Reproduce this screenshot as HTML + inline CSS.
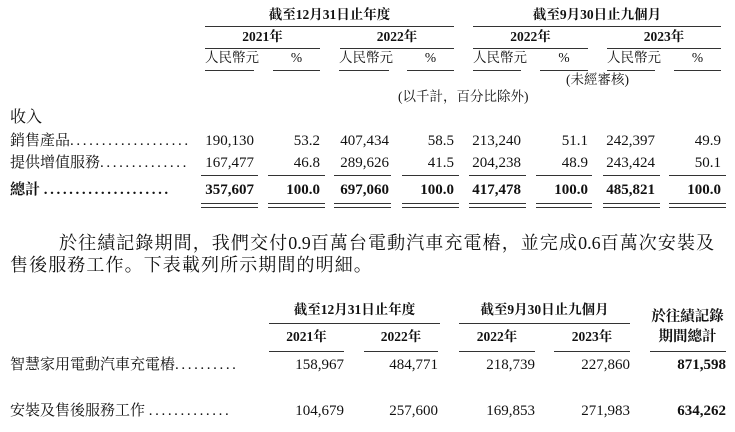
<!DOCTYPE html>
<html><head><meta charset="utf-8">
<style>
body{margin:0;width:735px;height:432px;background:#fff;position:relative;overflow:hidden;font-family:"Liberation Serif","Noto Serif CJK SC",serif;color:#111;}
.t{position:absolute;white-space:nowrap;line-height:18px;font-size:15px;}
.c{text-align:center;}
.b{font-weight:bold;}
.h{font-size:13.5px;}
.d{letter-spacing:2.6px;}
.l{position:absolute;height:1px;background:#333;}
.p{position:absolute;white-space:nowrap;font-size:18px;letter-spacing:1.1px;line-height:22px;}
</style></head><body>
<div class="t c b h" style="left:205px;width:249px;top:6px">截至12月31日止年度</div>
<div class="t c b h" style="left:473px;width:248px;top:6px">截至9月30日止九個月</div>
<div class="l" style="left:205px;width:249px;top:26px"></div>
<div class="l" style="left:473px;width:248px;top:26px"></div>
<div class="t c b h" style="left:205px;width:115px;top:28px">2021年</div>
<div class="t c b h" style="left:340px;width:114px;top:28px">2022年</div>
<div class="t c b h" style="left:473px;width:115px;top:28px">2022年</div>
<div class="t c b h" style="left:607px;width:114px;top:28px">2023年</div>
<div class="l" style="left:205px;width:115px;top:48px"></div>
<div class="l" style="left:340px;width:114px;top:48px"></div>
<div class="l" style="left:473px;width:115px;top:48px"></div>
<div class="l" style="left:607px;width:114px;top:48px"></div>
<div class="t c h" style="left:205px;width:49px;top:49px">人民幣元</div>
<div class="t c h" style="left:273px;width:47px;top:49px">%</div>
<div class="t c h" style="left:339px;width:50px;top:49px">人民幣元</div>
<div class="t c h" style="left:407px;width:47px;top:49px">%</div>
<div class="t c h" style="left:473px;width:48px;top:49px">人民幣元</div>
<div class="t c h" style="left:540px;width:48px;top:49px">%</div>
<div class="t c h" style="left:607px;width:48px;top:49px">人民幣元</div>
<div class="t c h" style="left:674px;width:47px;top:49px">%</div>
<div class="l" style="left:205px;width:49px;top:70px"></div>
<div class="l" style="left:273px;width:47px;top:70px"></div>
<div class="l" style="left:339px;width:50px;top:70px"></div>
<div class="l" style="left:407px;width:47px;top:70px"></div>
<div class="l" style="left:473px;width:48px;top:70px"></div>
<div class="l" style="left:540px;width:48px;top:70px"></div>
<div class="l" style="left:607px;width:48px;top:70px"></div>
<div class="l" style="left:674px;width:47px;top:70px"></div>
<div class="t c h" style="left:540px;width:115px;top:71px">(未經審核)</div>
<div class="t h" style="left:398px;top:88px">(以千計，百分比除外)</div>
<div class="t" style="left:10px;top:109px;font-size:16px">收入</div>
<div class="t" style="left:10px;top:132px">銷售產品<span class="d">...................</span></div>
<div class="t" style="left:10px;top:154px">提供增值服務<span class="d">..............</span></div>
<div class="t b" style="left:10px;top:181px">總計 <span class="d">....................</span></div>
<div class="t" style="right:481px;top:132px">190,130</div>
<div class="t" style="right:415px;top:132px">53.2</div>
<div class="t" style="right:346px;top:132px">407,434</div>
<div class="t" style="right:281px;top:132px">58.5</div>
<div class="t" style="right:214px;top:132px">213,240</div>
<div class="t" style="right:147px;top:132px">51.1</div>
<div class="t" style="right:80px;top:132px">242,397</div>
<div class="t" style="right:14px;top:132px">49.9</div>
<div class="t" style="right:481px;top:154px">167,477</div>
<div class="t" style="right:415px;top:154px">46.8</div>
<div class="t" style="right:346px;top:154px">289,626</div>
<div class="t" style="right:281px;top:154px">41.5</div>
<div class="t" style="right:214px;top:154px">204,238</div>
<div class="t" style="right:147px;top:154px">48.9</div>
<div class="t" style="right:80px;top:154px">243,424</div>
<div class="t" style="right:14px;top:154px">50.1</div>
<div class="t b" style="right:481px;top:181px">357,607</div>
<div class="t b" style="right:415px;top:181px">100.0</div>
<div class="t b" style="right:346px;top:181px">697,060</div>
<div class="t b" style="right:281px;top:181px">100.0</div>
<div class="t b" style="right:214px;top:181px">417,478</div>
<div class="t b" style="right:147px;top:181px">100.0</div>
<div class="t b" style="right:80px;top:181px">485,821</div>
<div class="t b" style="right:14px;top:181px">100.0</div>
<div class="l" style="left:201px;width:57px;top:175px"></div>
<div class="l" style="left:268px;width:57px;top:175px"></div>
<div class="l" style="left:334px;width:57px;top:175px"></div>
<div class="l" style="left:402px;width:57px;top:175px"></div>
<div class="l" style="left:469px;width:57px;top:175px"></div>
<div class="l" style="left:536px;width:56px;top:175px"></div>
<div class="l" style="left:603px;width:57px;top:175px"></div>
<div class="l" style="left:669px;width:57px;top:175px"></div>
<div class="l" style="left:201px;width:57px;top:203px"></div>
<div class="l" style="left:268px;width:57px;top:203px"></div>
<div class="l" style="left:334px;width:57px;top:203px"></div>
<div class="l" style="left:402px;width:57px;top:203px"></div>
<div class="l" style="left:469px;width:57px;top:203px"></div>
<div class="l" style="left:536px;width:56px;top:203px"></div>
<div class="l" style="left:603px;width:57px;top:203px"></div>
<div class="l" style="left:669px;width:57px;top:203px"></div>
<div class="l" style="left:201px;width:57px;top:207px"></div>
<div class="l" style="left:268px;width:57px;top:207px"></div>
<div class="l" style="left:334px;width:57px;top:207px"></div>
<div class="l" style="left:402px;width:57px;top:207px"></div>
<div class="l" style="left:469px;width:57px;top:207px"></div>
<div class="l" style="left:536px;width:56px;top:207px"></div>
<div class="l" style="left:603px;width:57px;top:207px"></div>
<div class="l" style="left:669px;width:57px;top:207px"></div>
<div class="p" style="left:59px;top:232px">於往績記錄期間，我們交付<span style="letter-spacing:0">0.9</span>百萬台電動汽車充電樁，並完成<span style="letter-spacing:0">0.6</span>百萬次安裝及</div>
<div class="p" style="left:10px;top:254px">售後服務工作。下表載列所示期間的明細。</div>
<div class="t c b h" style="left:269px;width:171px;top:301px">截至12月31日止年度</div>
<div class="t c b h" style="left:459px;width:171px;top:301px">截至9月30日止九個月</div>
<div class="l" style="left:269px;width:171px;top:323px"></div>
<div class="l" style="left:459px;width:171px;top:323px"></div>
<div class="t c b h" style="left:649px;width:77px;top:308px;font-size:14.5px">於往績記錄</div>
<div class="t c b h" style="left:649px;width:77px;top:328px;font-size:14.5px">期間總計</div>
<div class="t c b h" style="left:269px;width:75px;top:328px">2021年</div>
<div class="t c b h" style="left:364px;width:74px;top:328px">2022年</div>
<div class="t c b h" style="left:459px;width:76px;top:328px">2022年</div>
<div class="t c b h" style="left:554px;width:76px;top:328px">2023年</div>
<div class="l" style="left:269px;width:75px;top:351px"></div>
<div class="l" style="left:364px;width:74px;top:351px"></div>
<div class="l" style="left:459px;width:76px;top:351px"></div>
<div class="l" style="left:554px;width:76px;top:351px"></div>
<div class="l" style="left:650px;width:76px;top:351px"></div>
<div class="t" style="left:10px;top:356px">智慧家用電動汽車充電樁<span class="d">..........</span></div>
<div class="t" style="right:391px;top:356px">158,967</div>
<div class="t" style="right:297px;top:356px">484,771</div>
<div class="t" style="right:200px;top:356px">218,739</div>
<div class="t" style="right:105px;top:356px">227,860</div>
<div class="t b" style="right:9px;top:356px">871,598</div>
<div class="t" style="left:10px;top:402px">安裝及售後服務工作 <span class="d">.............</span></div>
<div class="t" style="right:391px;top:402px">104,679</div>
<div class="t" style="right:297px;top:402px">257,600</div>
<div class="t" style="right:200px;top:402px">169,853</div>
<div class="t" style="right:105px;top:402px">271,983</div>
<div class="t b" style="right:9px;top:402px">634,262</div>
</body></html>
